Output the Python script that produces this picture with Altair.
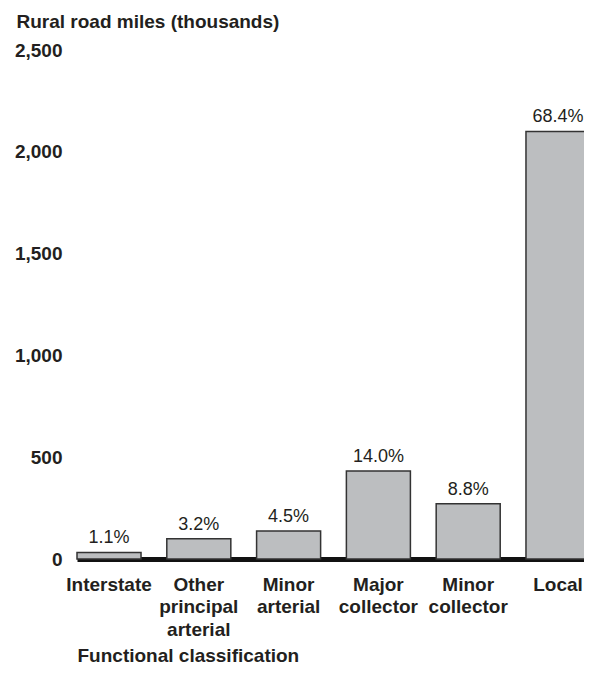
import altair as alt
import pandas as pd

categories = ["Interstate", "Other principal arterial", "Minor arterial",
              "Major collector", "Minor collector", "Local"]
miles = [32, 99, 138, 432, 271, 2100]
shares = ["1.1%", "3.2%", "4.5%", "14.0%", "8.8%", "68.4%"]
y_ticks = [0, 500, 1000, 1500, 2000, 2500]

df = pd.DataFrame({"cat": categories, "miles": miles, "share": shares})

FONT = "Liberation Sans"
INK = "#231f20"
FS = 19

x = alt.X(
    "cat:N",
    sort=categories,
    scale=alt.Scale(type="band", range=[2, 515], paddingInner=0.287, paddingOuter=0),
    axis=alt.Axis(
        title="Functional classification",
        titleX=2, titleY=102, titleAlign="left", titleAnchor="start",
        titleBaseline="alphabetic", titleFont=FONT, titleFontSize=FS,
        titleFontWeight="bold", titleColor=INK,
        labelExpr="split(datum.label, ' ')",
        labelFont=FONT, labelFontSize=FS, labelFontWeight="bold", labelColor=INK,
        labelLineHeight=22.5, labelPadding=16, labelAngle=0,
        ticks=False, tickSize=0, domainColor="#111111", domainWidth=5,
        grid=False,
    ),
)

y = alt.Y(
    "miles:Q",
    scale=alt.Scale(domain=[0, 2500], nice=False),
    axis=alt.Axis(
        title="Rural road miles (thousands)",
        titleAngle=0, titleX=-59, titleY=-23, titleAlign="left",
        titleBaseline="alphabetic", titleFont=FONT, titleFontSize=FS,
        titleFontWeight="bold", titleColor=INK,
        values=y_ticks, format=",d",
        labelFont=FONT, labelFontSize=FS, labelFontWeight="bold", labelColor=INK,
        labelPadding=13, ticks=False, tickSize=0, domain=False, grid=False,
    ),
)

bars = alt.Chart(df).mark_bar(
    fill="#bcbec0", stroke="#333333", strokeWidth=1.5
).encode(x=x, y=y)

labels = alt.Chart(df).mark_text(
    baseline="alphabetic", align="center", dy=-9,
    font=FONT, fontSize=18, color=INK
).encode(x=alt.X("cat:N", sort=categories), y="miles:Q", text="share:N")

chart = alt.layer(bars, labels).properties(
    width=509, height=509,
    autosize=alt.AutoSizeParams(type="none"),
    padding={"left": 67, "top": 42, "right": 0, "bottom": 106},
).configure_view(stroke=None)

chart.save("out.html", embed_options={"renderer": "svg", "actions": False})
